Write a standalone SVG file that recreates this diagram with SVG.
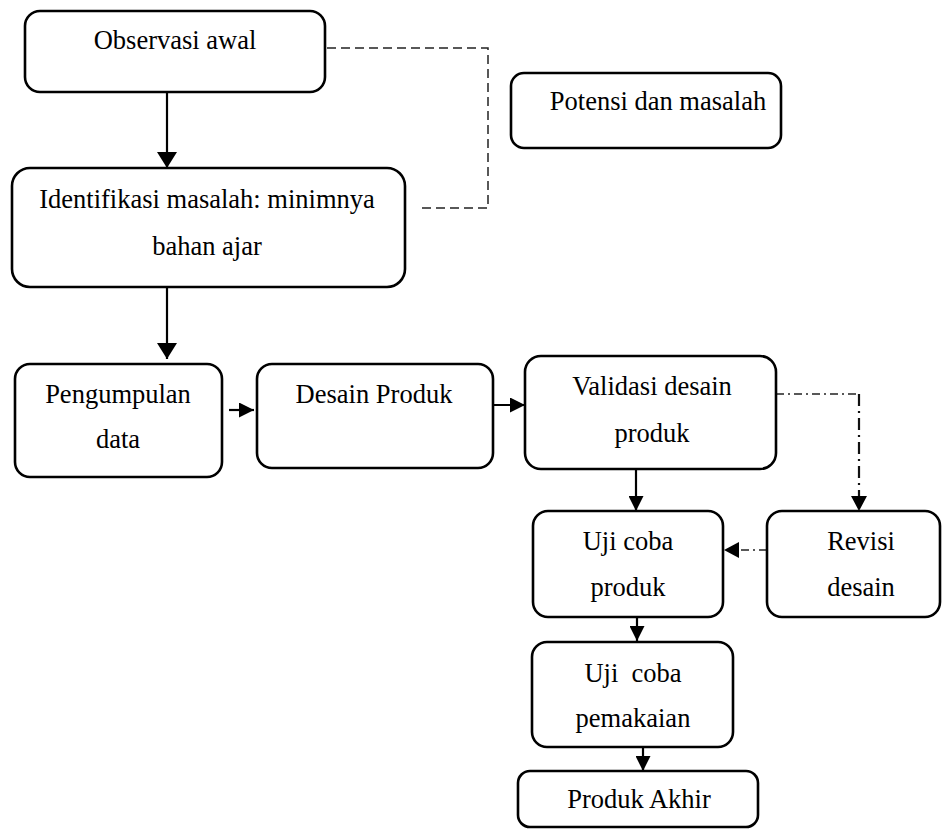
<svg xmlns="http://www.w3.org/2000/svg" width="942" height="830" viewBox="0 0 942 830">
  <style>
    .box { fill: #ffffff; stroke: #000000; stroke-width: 2.6; }
    .lbl { font-family: "Liberation Serif", "Times New Roman", serif; font-size: 26.5px; fill: #000000; text-anchor: middle; }
    .flow { fill: none; stroke: #000000; stroke-width: 2.2; }
    .dash { fill: none; stroke: #222222; stroke-width: 1.5; stroke-dasharray: 9 5; }
    .dashdot { fill: none; stroke: #222222; stroke-width: 1.5; stroke-dasharray: 8 4 2 4; }
    .dashdot-v { fill: none; stroke: #111111; stroke-width: 2.2; stroke-dasharray: 12 5 2 5; }
  </style>
  <defs>
    <marker id="headL" markerUnits="userSpaceOnUse" markerWidth="16" markerHeight="20" refX="16" refY="10" orient="auto">
      <path d="M0,0 L16,10 L0,20 z" fill="#000000"/>
    </marker>
    <marker id="head" markerUnits="userSpaceOnUse" markerWidth="15" markerHeight="15" refX="15" refY="7.5" orient="auto">
      <path d="M0,0 L15,7.5 L0,15 z" fill="#000000"/>
    </marker>
  </defs>

  <!-- connectors -->
  <g id="connectors">
    <line class="flow" x1="167" y1="92" x2="167" y2="168" marker-end="url(#headL)"/>
    <line class="flow" x1="167" y1="287" x2="167" y2="359" marker-end="url(#headL)"/>
    <line class="flow" x1="229" y1="410" x2="254" y2="410" marker-end="url(#head)"/>
    <line class="flow" x1="487" y1="405" x2="525" y2="405" marker-end="url(#head)"/>
    <line class="flow" x1="636" y1="453" x2="636" y2="511" marker-end="url(#head)"/>
    <line class="flow" x1="637" y1="617" x2="637" y2="641" marker-end="url(#head)"/>
    <line class="flow" x1="643" y1="738" x2="643" y2="771" marker-end="url(#head)"/>
    <!-- dashed link between the first two steps and the side note -->
    <polyline class="dash" points="327,48 488,48 488,208 420,208"/>
    <!-- revision loop -->
    <polyline class="dashdot" points="776,394 859,394"/>
    <line class="dashdot-v" x1="859" y1="394" x2="859" y2="497"/>
    <path d="M851,496 L859,511 L867,496 z" fill="#000000"/>
    <line class="dashdot" x1="767" y1="550" x2="740" y2="550"/>
    <path d="M739,542 L724,550 L739,558 z" fill="#000000"/>
  </g>

  <g id="observasi">
    <rect class="box" x="25" y="11" width="300" height="81" rx="15"/>
    <text class="lbl" x="175" y="49">Observasi awal</text>
  </g>

  <g id="potensi">
    <rect class="box" x="511" y="73" width="270" height="75" rx="13"/>
    <text class="lbl" x="658" y="110">Potensi dan masalah</text>
  </g>

  <g id="identifikasi">
    <rect class="box" x="12" y="168" width="393" height="119" rx="18"/>
    <text class="lbl" x="207" y="208">Identifikasi masalah: minimnya</text>
    <text class="lbl" x="207" y="255">bahan ajar</text>
  </g>

  <g id="pengumpulan">
    <rect class="box" x="15" y="364" width="207" height="113" rx="15"/>
    <text class="lbl" x="118" y="403">Pengumpulan</text>
    <text class="lbl" x="118" y="448">data</text>
  </g>

  <g id="desain">
    <rect class="box" x="257" y="364" width="236" height="104" rx="15"/>
    <text class="lbl" x="374" y="403">Desain Produk</text>
  </g>

  <g id="validasi">
    <rect class="box" x="525" y="356" width="251" height="113" rx="16"/>
    <text class="lbl" x="652" y="395">Validasi desain</text>
    <text class="lbl" x="652" y="442">produk</text>
  </g>

  <g id="ujicoba-produk">
    <rect class="box" x="533" y="511" width="190" height="106" rx="15"/>
    <text class="lbl" x="628" y="550">Uji coba</text>
    <text class="lbl" x="628" y="596">produk</text>
  </g>

  <g id="revisi">
    <rect class="box" x="767" y="511" width="173" height="106" rx="15"/>
    <text class="lbl" x="861" y="550">Revisi</text>
    <text class="lbl" x="861" y="596">desain</text>
  </g>

  <g id="ujicoba-pemakaian">
    <rect class="box" x="532" y="642" width="201" height="105" rx="15"/>
    <text class="lbl" x="633" y="682" xml:space="preserve">Uji  coba</text>
    <text class="lbl" x="633" y="727">pemakaian</text>
  </g>

  <g id="produk-akhir">
    <rect class="box" x="518" y="771" width="240" height="56" rx="12"/>
    <text class="lbl" x="639" y="808">Produk Akhir</text>
  </g>
</svg>
